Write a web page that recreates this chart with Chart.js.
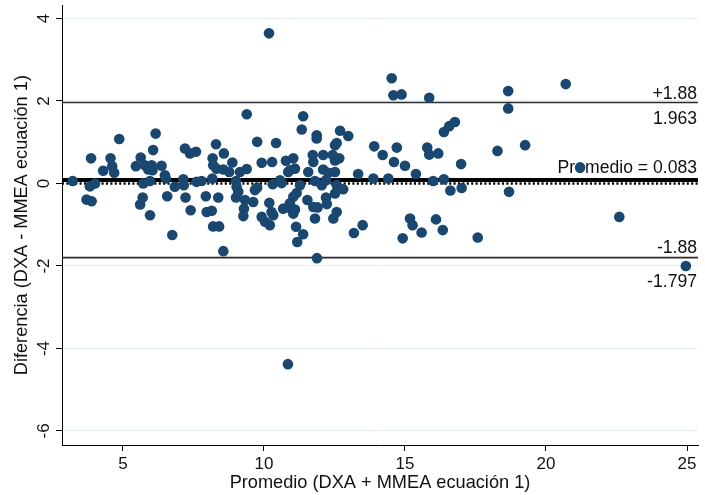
<!DOCTYPE html>
<html>
<head>
<meta charset="utf-8">
<script src="https://cdn.jsdelivr.net/npm/chart.js@4/dist/chart.umd.min.js"></script>
<style>
  html, body { margin: 0; padding: 0; background: #fff; }
  canvas { display: block; }
</style>
</head>
<body>
<canvas id="c" width="705" height="495"></canvas>
<script>
// Bland-Altman: mean of both methods (x) vs. their difference (y)
const promedio = [
  3.22, 3.87, 4.87, 6.16, 6.07, 4.56, 4.62, 4.30, 4.69, 3.83,
  4.01, 3.71, 3.89, 5.63, 5.46, 5.78, 6.02, 5.90, 6.05, 6.37,
  6.49, 6.52, 5.72, 5.96, 6.57, 5.70, 5.61, 5.96, 6.75, 6.84,
  9.39, 7.20, 7.38, 7.59, 8.30, 8.58, 8.18, 8.20, 8.32, 8.56,
  8.77, 8.88, 9.15, 9.39, 9.76, 10.43, 9.92, 10.29, 10.78, 10.86,
  7.14, 7.16, 7.61, 7.79, 8.17, 9.01, 9.03, 9.09, 9.01, 9.33,
  9.68, 9.76, 9.62, 10.31, 10.57, 10.19, 9.29, 9.27, 9.92, 10.04,
  10.21, 10.33, 10.27, 10.68, 10.86, 7.22, 7.94, 8.38, 7.40, 7.97,
  8.15, 8.20, 8.41, 8.56, 11.39, 11.34, 11.87, 11.87, 12.70, 12.99,
  12.52, 12.58, 13.91, 14.21, 14.71, 14.61, 11.04, 10.92, 11.10, 11.73,
  11.75, 12.10, 12.44, 12.52, 12.67, 11.57, 12.10, 12.28, 12.52, 13.34,
  13.88, 14.41, 10.63, 11.28, 11.81, 12.05, 12.20, 12.58, 12.81, 12.52,
  11.04, 11.16, 10.92, 11.54, 11.75, 11.90, 12.20, 12.23, 11.10, 11.04,
  11.81, 12.58, 12.46, 11.14, 11.39, 11.18, 13.19, 13.50, 14.92, 14.53,
  14.59, 14.88, 15.86, 18.66, 18.66, 16.38, 16.57, 16.77, 15.00, 15.39,
  15.79, 15.86, 16.18, 16.99, 18.28, 16.00, 16.38, 16.61, 17.01, 18.69,
  15.18, 15.27, 15.59, 16.10, 16.34, 17.58, 19.26, 20.70, 21.21, 22.60,
  24.96, 10.18, 10.85, 11.88
];
const diferencia = [
  0.06, 0.61, 1.08, 1.21, 0.81, 0.61, 0.42, 0.31, 0.26, -0.07,
  0.00, -0.39, -0.43, 0.63, 0.42, 0.44, 0.44, 0.34, 0.32, 0.43,
  0.20, 0.12, 0.00, 0.06, -0.31, -0.34, -0.51, -0.77, -1.25, -0.08,
  1.68, 0.85, 0.73, 0.77, 0.95, 0.73, 0.61, 0.44, 0.36, 0.34,
  0.28, 0.51, 0.28, 0.35, 1.01, 0.98, 0.50, 0.52, 0.55, 0.28,
  0.10, -0.04, 0.04, 0.06, 0.12, 0.06, -0.08, -0.20, -0.34, -0.40,
  -0.16, -0.10, -0.45, -0.02, 0.08, -0.47, -0.61, -0.79, -0.81, -0.93,
  -1.01, -0.77, -0.69, -0.61, -0.58, -0.34, -0.31, -0.34, -0.65, -0.69,
  -0.66, -1.04, -1.04, -1.64, 1.63, 1.31, 1.17, 1.09, 1.28, 1.15,
  0.93, 0.98, 0.90, 0.69, 0.87, 0.52, 0.61, 0.32, 0.36, 0.69,
  0.52, 0.69, 0.69, 0.56, 0.61, 0.28, 0.34, 0.26, 0.28, 0.23,
  0.12, 0.12, 0.01, -0.04, 0.06, -0.04, 0.08, -0.04, -0.14, -0.24,
  -0.32, -0.23, -0.48, -0.40, -0.57, -0.58, -0.34, -0.50, -0.63, -0.73,
  -0.85, -0.69, -0.85, -1.05, -1.23, -1.42, -1.20, -1.01, -1.33, 2.55,
  2.14, 2.16, 2.08, 2.24, 1.82, 1.25, 1.39, 1.49, 0.43, 0.23,
  0.87, 0.70, 0.73, 0.47, 0.79, 0.06, 0.10, -0.17, -0.11, -0.20,
  -0.85, -1.01, -1.19, -0.87, -1.13, -1.31, 0.93, 2.41, 0.39, -0.81,
  -2.00, 3.64, -4.38, -1.81
];

// Summary lines
const meanDiff = 0.083;
const upperLimit = 1.963;
const lowerLimit = -1.797;

// Axis ranges and ticks
const xRange = [2.84, 25.39];
const yRange = [-6.34, 4.32];
const xTicks = [5, 10, 15, 20, 25];
const yTicks = [4, 2, 0, -2, -4, -6];

// Texts
const xTitle = 'Promedio (DXA + MMEA ecuación 1)';
const yTitle = 'Diferencia (DXA - MMEA ecuación 1)';
const upperTag = '+1.88';
const lowerTag = '-1.88';
const meanTag = 'Promedio = ' + meanDiff.toFixed(3);

const FONT = '"Liberation Sans", Arial, Helvetica, sans-serif';
const NAVY = '#1a476f';

const points = promedio.map((v, i) => ({ x: v, y: diferencia[i] }));
const hline = v => [{ x: xRange[0], y: v }, { x: xRange[1], y: v }];

const textLayer = {
  id: 'textLayer',
  beforeDatasetsDraw(chart) {
    const { ctx, chartArea, scales: { y } } = chart;
    const right = chartArea.right - 1;
    ctx.save();
    ctx.font = '17.6px ' + FONT;
    ctx.fillStyle = '#111';
    ctx.textAlign = 'right';
    ctx.textBaseline = 'alphabetic';
    const yu = y.getPixelForValue(upperLimit);
    const ym = y.getPixelForValue(meanDiff);
    const yl = y.getPixelForValue(lowerLimit);
    ctx.fillText(upperTag, right, yu - 3.5);
    ctx.fillText(upperLimit.toFixed(3), right, yu + 21.5);
    ctx.fillText(meanTag, right, ym - 7);
    ctx.fillText(lowerTag, right, yl - 4.5);
    ctx.fillText(lowerLimit.toFixed(3), right, yl + 29.5);
    ctx.restore();
  },
  afterDraw(chart) {
    // rotated y tick labels
    const { ctx, scales: { y } } = chart;
    ctx.save();
    ctx.font = '17px ' + FONT;
    ctx.fillStyle = '#111';
    ctx.textAlign = 'center';
    ctx.textBaseline = 'alphabetic';
    yTicks.forEach(v => {
      const py = y.getPixelForValue(v);
      ctx.save();
      ctx.translate(48.5, py);
      ctx.rotate(-Math.PI / 2);
      ctx.fillText(String(v), 0, 0);
      ctx.restore();
    });
    ctx.restore();
  }
};

new Chart(document.getElementById('c'), {
  type: 'scatter',
  data: {
    datasets: [
      { type: 'line', data: hline(upperLimit), borderColor: '#2a2a2a', borderWidth: 1.6, pointRadius: 0, order: 3 },
      { type: 'line', data: hline(lowerLimit), borderColor: '#2a2a2a', borderWidth: 1.6, pointRadius: 0, order: 3 },
      { type: 'line', data: hline(0), borderColor: '#000', borderWidth: 2.4, borderDash: [2, 2.4], pointRadius: 0, order: 3 },
      { type: 'line', data: hline(meanDiff), borderColor: '#000', borderWidth: 4, pointRadius: 0, order: 2 },
      { data: points, backgroundColor: NAVY, borderColor: NAVY, borderWidth: 0, pointRadius: 5.3, order: 1 }
    ]
  },
  options: {
    responsive: false,
    animation: false,
    devicePixelRatio: 1,
    layout: { padding: { top: 5, right: 7, left: 0, bottom: 0 } },
    plugins: { legend: { display: false }, tooltip: { enabled: false } },
    scales: {
      x: {
        type: 'linear',
        min: xRange[0],
        max: xRange[1],
        afterBuildTicks: s => { s.ticks = xTicks.map(v => ({ value: v })); },
        afterFit: s => { s.height = 50; },
        grid: { drawOnChartArea: false, drawTicks: true, tickLength: 6, tickColor: '#000', tickWidth: 1 },
        border: { display: true, color: '#000', width: 1 },
        ticks: { color: '#111', font: { family: FONT, size: 17 }, padding: 3, maxRotation: 0 },
        title: { display: true, text: xTitle, color: '#111', font: { family: FONT, size: 18.2 }, padding: { top: 0, bottom: 1 } }
      },
      y: {
        type: 'linear',
        min: yRange[0],
        max: yRange[1],
        afterBuildTicks: s => { s.ticks = yTicks.map(v => ({ value: v })); },
        afterFit: s => { s.width = 62; },
        grid: { drawOnChartArea: true, color: '#e6eef1', lineWidth: 1, drawTicks: true, tickLength: 6, tickColor: '#000', tickWidth: 1 },
        border: { display: true, color: '#000', width: 1 },
        ticks: { display: false },
        title: { display: true, text: yTitle, color: '#111', font: { family: FONT, size: 18.2 }, padding: { top: 11, bottom: 0 } }
      }
    }
  },
  plugins: [textLayer]
});
</script>
</body>
</html>
